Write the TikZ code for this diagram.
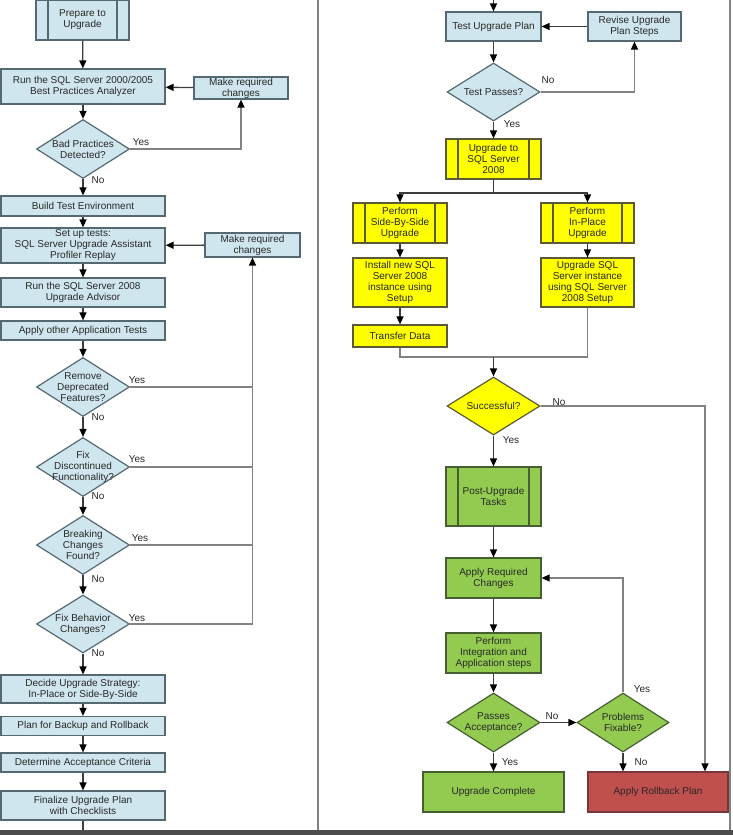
\documentclass[tikz,border=0pt]{standalone}
\usepackage{fontspec}
\setmainfont{Liberation Sans}
\usetikzlibrary{shapes.geometric,arrows.meta}
\definecolor{lbfill}{RGB}{208,230,238}
\definecolor{lbdraw}{RGB}{85,105,115}
\definecolor{yfill}{RGB}{255,255,0}
\definecolor{ydraw}{RGB}{90,90,55}
\definecolor{gfill}{RGB}{146,203,80}
\definecolor{gdraw}{RGB}{70,95,50}
\definecolor{rfill}{RGB}{192,80,77}
\definecolor{rdraw}{RGB}{120,55,55}
\definecolor{txt}{RGB}{40,40,40}
\definecolor{flow}{RGB}{60,60,60}
\definecolor{fb}{RGB}{130,130,130}
\tikzset{
  base/.style={rectangle, line width=1.2pt, align=center, inner sep=0pt,
    font=\fontsize{10}{11}\selectfont, text=txt},
  box/.style={base, draw=lbdraw, fill=lbfill},
  ybox/.style={base, draw=ydraw, fill=yfill},
  gbox/.style={base, draw=gdraw, fill=gfill},
  rbox/.style={base, draw=rdraw, fill=rfill},
  ppl/.style={path picture={\draw[line width=1.1pt,#1]
     ([xshift=12pt]path picture bounding box.north west) -- ([xshift=12pt]path picture bounding box.south west)
     ([xshift=-12pt]path picture bounding box.north east) -- ([xshift=-12pt]path picture bounding box.south east);}},
  dia/.style={diamond, line width=1.2pt, inner sep=0pt, minimum width=93pt, minimum height=59pt},
  dtext/.style={align=center, inner sep=0pt, font=\fontsize{10}{11}\selectfont, text=txt},
  lab/.style={inner sep=0pt, font=\fontsize{10}{11}\selectfont, text=txt},
  arr/.style={draw=flow, line width=1.3pt, -{Triangle[length=8pt,width=7pt,fill=black,color=black]}},
  ln/.style={draw=flow, line width=1.3pt},
  fbarr/.style={draw=fb, line width=1.3pt, -{Triangle[length=8pt,width=7pt,fill=black,color=black]}},
  fbln/.style={draw=fb, line width=1.3pt},
}
\begin{document}
\begin{tikzpicture}[x=1pt,y=-1pt]
\useasboundingbox (0,0) rectangle (733,835);
\fill[white] (0,0) rectangle (733,835);
% frame
\draw[fb, line width=1.5pt] (318,0) -- (318,830);
\draw[fb, line width=1.5pt] (730,0) -- (730,830);
\fill[black!70] (0,830) rectangle (733,835);

% ---------------- left column ----------------
\node[box, ppl=lbdraw, minimum width=93pt, minimum height=40pt] (prep) at (82.5,20) {Prepare to\\Upgrade};
\node[box, minimum width=164pt, minimum height=35pt] (bpa) at (83,86.5) {Run the SQL Server 2000/2005\\Best Practices Analyzer};
\node[box, minimum width=94pt, minimum height=22pt] (mrc1) at (241,88) {Make required\\changes};
\node[dia, draw=lbdraw, fill=lbfill] (d1) at (83,149) {};
\node[dtext] (d1t) at (d1) {Bad Practices\\Detected?};
\node[box, minimum width=164pt, minimum height=20pt] (bte) at (83,206) {Build Test Environment};
\node[box, minimum width=164pt, minimum height=35pt] (setup) at (83,245.5) {Set up tests:\\SQL Server Upgrade Assistant\\Profiler Replay};
\node[box, minimum width=95pt, minimum height=24pt] (mrc2) at (252.5,245) {Make required\\changes};
\node[box, minimum width=164pt, minimum height=29pt] (ua) at (83,292.5) {Run the SQL Server 2008\\Upgrade Advisor};
\node[box, minimum width=164pt, minimum height=19pt] (apt) at (83,330.5) {Apply other Application Tests};
\node[dia, draw=lbdraw, fill=lbfill] (d2) at (83,387) {};
\node[dtext] (d2t) at (d2) {Remove\\Deprecated\\Features?};
\node[dia, draw=lbdraw, fill=lbfill] (d3) at (83,467) {};
\node[dtext] (d3t) at (d3) {Fix\\Discontinued\\Functionality?};
\node[dia, draw=lbdraw, fill=lbfill] (d4) at (83,545) {};
\node[dtext] (d4t) at (d4) {Breaking\\Changes\\Found?};
\node[dia, draw=lbdraw, fill=lbfill, minimum height=58pt] (d5) at (83,624) {};
\node[dtext] (d5t) at (d5) {Fix Behavior\\Changes?};
\node[box, minimum width=164pt, minimum height=28pt] (dus) at (83,689) {Decide Upgrade Strategy:\\In-Place or Side-By-Side};
\node[box, minimum width=164pt, minimum height=19pt] (pbr) at (83,726) {Plan for Backup and Rollback};
\node[box, minimum width=164pt, minimum height=19pt] (dac) at (83,762.5) {Determine Acceptance Criteria};
\node[box, minimum width=164pt, minimum height=29pt] (fup) at (83,805.5) {Finalize Upgrade Plan\\with Checklists};
\coordinate (lexit) at (83,830);

\draw[arr] (prep) -- (bpa);
\draw[arr] (bpa) -- (d1);
\draw[arr] (d1) -- (bte);
\draw[arr] (bte) -- (setup);
\draw[arr] (setup) -- (ua);
\draw[arr] (ua) -- (apt);
\draw[arr] (apt) -- (d2);
\draw[arr] (d2) -- (d3);
\draw[arr] (d3) -- (d4);
\draw[arr] (d4) -- (d5);
\draw[arr] (d5) -- (dus);
\draw[arr] (dus) -- (pbr);
\draw[arr] (pbr) -- (dac);
\draw[arr] (dac) -- (fup);
\draw[ln] (fup) -- (lexit);
\draw[arr] (mrc1) -- (bpa);
\draw[arr] (mrc2) -- (setup);
\draw[fbarr] (d1.east) -| (mrc1.south);
\draw[fbarr] (d5.east) -| (mrc2.south);
\draw[fbln] (d2.east) -- (d2.east -| mrc2.south);
\draw[fbln] (d3.east) -- (d3.east -| mrc2.south);
\draw[fbln] (d4.east) -- (d4.east -| mrc2.south);

\node[lab] (y1) at (141,142) {Yes};
\node[lab] (n1) at (98,180) {No};
\node[lab] (y2) at (137,380) {Yes};
\node[lab] (n2) at (98,417) {No};
\node[lab] (y3) at (137,459) {Yes};
\node[lab] (n3) at (98,496) {No};
\node[lab] (y4) at (140,538) {Yes};
\node[lab] (n4) at (98,579) {No};
\node[lab] (y5) at (137,618) {Yes};
\node[lab] (n5) at (98,653) {No};

% ---------------- right column ----------------
\coordinate (rentry) at (493.5,0);
\node[box, minimum width=95pt, minimum height=29pt] (tup) at (493.5,26.5) {Test Upgrade Plan};
\node[box, minimum width=93pt, minimum height=29pt] (rev) at (634.5,26.5) {Revise Upgrade\\Plan Steps};
\node[dia, draw=lbdraw, fill=lbfill, minimum height=58pt] (dtp) at (493.5,92) {};
\node[dtext] (dtpt) at (dtp) {Test Passes?};
\node[ybox, ppl=ydraw, minimum width=95pt, minimum height=40pt] (u08) at (493.5,159) {Upgrade to\\SQL Server\\2008};
\coordinate (split) at (493.5,193);
\node[ybox, ppl=ydraw, minimum width=94pt, minimum height=40pt] (sbs) at (400,223) {Perform\\Side-By-Side\\Upgrade};
\node[ybox, ppl=ydraw, minimum width=93pt, minimum height=40pt] (ipu) at (587.5,223) {Perform\\In-Place\\Upgrade};
\node[ybox, minimum width=94pt, minimum height=49pt] (inst) at (400,282.5) {Install new SQL\\Server 2008\\instance using\\Setup};
\node[ybox, minimum width=93pt, minimum height=49pt] (upsql) at (587.5,282.5) {Upgrade SQL\\Server instance\\using SQL Server\\2008 Setup};
\node[ybox, minimum width=94pt, minimum height=22pt] (td) at (400,336) {Transfer Data};
\coordinate (merge) at (493.5,357);
\node[dia, draw=ydraw, fill=yfill, minimum height=58pt] (dsu) at (493.5,406) {};
\node[dtext] (dsut) at (dsu) {Successful?};
\node[gbox, ppl=gdraw, minimum width=95pt, minimum height=59pt] (post) at (493.5,496.5) {Post-Upgrade\\Tasks};
\node[gbox, minimum width=95pt, minimum height=40pt] (arc) at (493.5,578) {Apply Required\\Changes};
\node[gbox, minimum width=95pt, minimum height=40pt] (pia) at (493.5,653) {Perform\\Integration and\\Application steps};
\node[dia, draw=gdraw, fill=gfill] (dpa) at (493.5,722.5) {};
\node[dtext] (dpat) at (dpa) {Passes\\Acceptance?};
\node[dia, draw=gdraw, fill=gfill, minimum width=92pt] (dpf) at (623,722.5) {};
\node[dtext] (dpft) at (dpf) {Problems\\Fixable?};
\node[gbox, minimum width=141pt, minimum height=40pt] (uc) at (493.5,792) {Upgrade Complete};
\node[rbox, minimum width=140pt, minimum height=40pt] (rb) at (658,792) {Apply Rollback Plan};

\draw[arr] (rentry) -- (tup);
\draw[arr] (tup) -- (dtp);
\draw[arr] (rev) -- (tup);
\draw[fbarr] (dtp.east) -| (rev.south);
\draw[arr] (dtp) -- (u08);
\draw[ln] (u08) -- (split);
\draw[arr] (split) -| (sbs.north);
\draw[arr] (split) -| (ipu.north);
\draw[arr] (sbs) -- (inst);
\draw[arr] (ipu) -- (upsql);
\draw[arr] (inst) -- (td);
\draw[fbln] (td.south) |- (merge);
\draw[fbln] (upsql.south) |- (merge);
\draw[arr] (merge) -- (dsu);
\draw[fbarr] (dsu.east) -| ([xshift=47pt]rb.north);
\draw[arr] (dsu) -- (post);
\draw[arr] (post) -- (arc);
\draw[arr] (arc) -- (pia);
\draw[arr] (pia) -- (dpa);
\draw[arr] (dpa) -- (uc);
\draw[arr] (dpa) -- (dpf);
\draw[fbarr] (dpf.north) |- (arc.east);
\draw[arr] (dpf.south) -- (dpf.south |- rb.north);

\node[lab] (ny1) at (548,80) {No};
\node[lab] (yy1) at (512,124) {Yes};
\node[lab] (ny2) at (559,402) {No};
\node[lab] (yy2) at (511,440) {Yes};
\node[lab] (ny3) at (552,716) {No};
\node[lab] (yy3) at (642,689) {Yes};
\node[lab] (ny4) at (641,762) {No};
\node[lab] (yy4) at (510,762) {Yes};
\end{tikzpicture}
\end{document}
